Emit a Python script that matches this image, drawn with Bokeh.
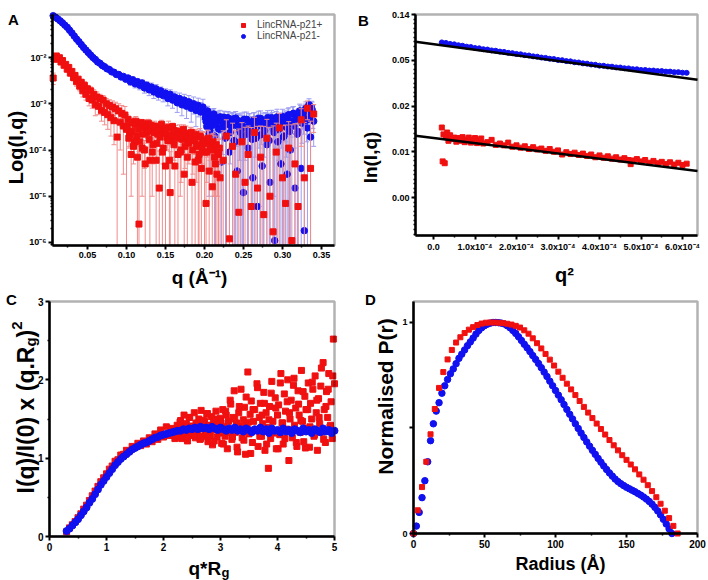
import numpy as np
from bokeh.plotting import figure
from bokeh.models import (Range1d, FixedTicker, Label, Legend, LegendItem, BoxAnnotation)
from bokeh.layouts import column, row
from bokeh.embed import file_html
from bokeh.resources import INLINE

FONT = "Liberation Sans"
RED = "#f01010"
BLUE = "#1010f0"
RED_ERR = "#f08c8c"
BLUE_ERR = "#9c9cf2"

# ======================= DATA =======================
# Panel A : log intensity vs q
a_blue_q_lo = [0.006, 0.009, 0.012, 0.015, 0.018, 0.021, 0.024, 0.027, 0.030, 0.033,
               0.036, 0.039, 0.042, 0.045, 0.048, 0.051, 0.054, 0.057, 0.060, 0.063,
               0.066, 0.069, 0.072, 0.075, 0.078, 0.081, 0.084, 0.087, 0.090, 0.093,
               0.096, 0.099, 0.102, 0.105, 0.108, 0.111, 0.114, 0.117, 0.120, 0.123,
               0.126, 0.129, 0.132, 0.135, 0.138, 0.141, 0.144, 0.147, 0.150, 0.153,
               0.156, 0.159, 0.162, 0.165, 0.168, 0.171, 0.174, 0.177, 0.180, 0.183,
               0.186, 0.189, 0.192, 0.195, 0.198]
a_blue_I_lo = [0.080, 0.074, 0.068, 0.062, 0.056, 0.050, 0.045, 0.039, 0.034, 0.029,
               0.025, 0.022, 0.019, 0.0165, 0.0145, 0.0128, 0.0113, 0.0100, 0.0091, 0.0080,
               0.0075, 0.0067, 0.0063, 0.0057, 0.0055, 0.0049, 0.0048, 0.0043, 0.0043, 0.0038,
               0.0039, 0.0034, 0.0036, 0.0030, 0.0033, 0.0027, 0.0030, 0.0025, 0.0028, 0.0022,
               0.0025, 0.0020, 0.0023, 0.0018, 0.0021, 0.0016, 0.0019, 0.0015, 0.0017, 0.0013,
               0.0016, 0.0012, 0.0014, 0.00105, 0.0013, 0.00095, 0.0012, 0.00088, 0.0011, 0.00080,
               0.0010, 0.00072, 0.00092, 0.00066, 0.00085]
a_blue_err_lo = [0.001, 0.001, 0.001, 0.001, 0.001, 0.001, 0.0008, 0.0007, 0.0006, 0.0005,
                 0.0004, 0.0004, 0.0003, 0.0003, 0.0003, 0.0006, 0.0006, 0.0005, 0.0005, 0.0004,
                 0.0004, 0.0004, 0.0003, 0.0003, 0.0003, 0.0003, 0.0003, 0.0003, 0.0003, 0.0003,
                 0.0003, 0.0003, 0.0005, 0.0005, 0.0005, 0.0005, 0.0005, 0.0005, 0.0005, 0.0005,
                 0.0005, 0.0005, 0.0005, 0.0005, 0.0005, 0.0004, 0.0004, 0.0004, 0.0004, 0.0004,
                 0.0004, 0.0004, 0.0004, 0.0004, 0.0004, 0.0004, 0.0004, 0.0004, 0.0004, 0.0004,
                 0.0004, 0.0004, 0.0004, 0.0004, 0.0004]
a_blue_q_hi = [0.200, 0.202, 0.204, 0.206, 0.208, 0.210, 0.212, 0.214, 0.216, 0.218,
               0.220, 0.222, 0.224, 0.226, 0.228, 0.230, 0.232, 0.234, 0.236, 0.238,
               0.240, 0.242, 0.244, 0.246, 0.248, 0.250, 0.252, 0.254, 0.256, 0.258,
               0.260, 0.262, 0.264, 0.266, 0.268, 0.270, 0.272, 0.274, 0.276, 0.278,
               0.280, 0.282, 0.284, 0.286, 0.288, 0.290, 0.292, 0.294, 0.296, 0.298,
               0.300, 0.302, 0.304, 0.306, 0.308, 0.310, 0.312, 0.314, 0.316, 0.318,
               0.320, 0.322, 0.324, 0.326, 0.328, 0.330, 0.332, 0.334, 0.336, 0.338,
               0.340]
a_blue_I_hi_e4 = [6.5, 4.1, 7.0, 2.3, 5.6, 3.4, 6.0, 1.2, 4.8, 2.9,
                  5.2, 0.55, 3.8, 4.6, 2.1, 5.0, 0.9, 3.3, 4.4, 1.6,
                  4.9, 0.35, 3.6, 2.4, 4.2, 0.12, 3.0, 4.6, 1.1, 3.9,
                  2.6, 0.25, 4.3, 1.8, 0.06, 3.5, 4.8, 0.45, 2.2, 4.1,
                  1.3, 3.7, 0.2, 5.0, 2.8, 0.011, 4.4, 1.5, 3.2, 0.5,
                  5.3, 2.0, 4.0, 0.3, 5.8, 1.0, 3.6, 6.2, 0.15, 4.7,
                  2.5, 7.0, 0.4, 5.5, 0.018, 8.0, 3.0, 9.5, 1.9, 7.5,
                  4.2]
a_blue_err_hi_e4 = [1.5, 2.0, 1.8, 2.2, 1.6, 2.4, 1.9, 2.6, 1.7, 2.3,
                    2.0, 2.8, 1.9, 2.1, 2.5, 1.8, 2.9, 2.2, 2.0, 2.7,
                    1.9, 3.0, 2.3, 2.6, 2.1, 3.2, 2.4, 2.0, 2.9, 2.2,
                    2.6, 3.1, 2.1, 2.8, 3.3, 2.4, 2.2, 3.0, 2.7, 2.3,
                    2.9, 2.5, 3.2, 2.2, 2.8, 3.4, 2.4, 3.0, 2.6, 3.1,
                    2.3, 2.9, 2.5, 3.3, 2.4, 3.0, 2.7, 2.5, 3.4, 2.6,
                    2.9, 2.8, 3.5, 2.7, 3.6, 3.0, 3.2, 3.3, 3.1, 3.4,
                    3.0]
a_blue_q_hi2 = [0.201, 0.203, 0.205, 0.207, 0.209, 0.211, 0.213, 0.215, 0.217, 0.219,
                0.221, 0.223, 0.225, 0.227, 0.229, 0.231, 0.233, 0.235, 0.237, 0.239,
                0.241, 0.243, 0.245, 0.247, 0.249, 0.251, 0.253, 0.255, 0.257, 0.259,
                0.261, 0.263, 0.265, 0.267, 0.269, 0.271, 0.273, 0.275, 0.277, 0.279,
                0.281, 0.283, 0.285, 0.287, 0.289, 0.291, 0.293, 0.295, 0.297, 0.299,
                0.301, 0.303, 0.305, 0.307, 0.309, 0.311, 0.313, 0.315, 0.317, 0.319,
                0.321, 0.323, 0.325, 0.327, 0.329, 0.331, 0.333, 0.335, 0.337, 0.339]
a_blue_I_hi2_e4 = [5.0, 3.2, 6.1, 2.6, 4.4, 5.5, 2.0, 3.8, 4.9, 2.8,
                   4.2, 3.0, 5.1, 1.8, 3.6, 4.5, 2.4, 3.9, 4.7, 1.5,
                   3.4, 4.3, 2.7, 3.8, 1.9, 4.6, 3.1, 2.2, 4.0, 3.5,
                   1.7, 4.4, 2.9, 3.6, 4.8, 2.1, 3.3, 4.1, 2.6, 3.9,
                   5.0, 1.6, 3.7, 4.5, 2.4, 3.2, 5.2, 2.8, 4.3, 3.6,
                   1.9, 4.9, 3.1, 5.6, 2.5, 4.2, 6.0, 3.3, 4.7, 2.2,
                   5.4, 6.5, 3.8, 5.0, 7.2, 4.4, 6.8, 5.2, 8.5, 6.0]
a_blue_err_hi2_e4 = [1.6, 2.0, 1.8, 2.2, 1.7, 1.9, 2.1, 1.8, 2.0, 1.7,
                     1.9, 2.2, 1.8, 2.0, 1.7, 2.1, 1.9, 2.3, 1.8, 2.0,
                     2.2, 1.9, 2.1, 1.8, 2.3, 2.0, 1.9, 2.2, 2.1, 1.8,
                     2.4, 2.0, 2.2, 1.9, 2.1, 2.3, 2.0, 2.2, 1.9, 2.4,
                     2.1, 2.5, 2.2, 2.0, 2.3, 2.1, 2.4, 2.2, 2.0, 2.5,
                     2.3, 2.1, 2.4, 2.2, 2.6, 2.3, 2.5, 2.2, 2.4, 2.7,
                     2.5, 2.6, 2.4, 2.8, 2.6, 2.9, 2.7, 3.0, 2.8, 3.1]

a_red_q_lo = [0.006, 0.008, 0.010, 0.012, 0.014, 0.016, 0.018, 0.020, 0.022, 0.024,
              0.026, 0.028, 0.030, 0.032, 0.034, 0.036, 0.038, 0.040, 0.042, 0.044,
              0.046, 0.048, 0.050, 0.052, 0.054, 0.056, 0.058, 0.060, 0.062, 0.064,
              0.066, 0.068, 0.070, 0.072, 0.074, 0.076, 0.078, 0.080, 0.082, 0.084,
              0.086, 0.088, 0.090, 0.092, 0.094, 0.096, 0.098, 0.100]
a_red_I_lo = [0.0036, 0.0092, 0.0108, 0.0094, 0.0099, 0.0080, 0.0086, 0.0068, 0.0071, 0.0056,
              0.0061, 0.0046, 0.0050, 0.0037, 0.0041, 0.0030, 0.0034, 0.0024, 0.0029, 0.0019,
              0.0025, 0.0016, 0.0021, 0.0013, 0.0019, 0.0012, 0.0016, 0.00095, 0.0014, 0.00088,
              0.0013, 0.00072, 0.0012, 0.00065, 0.0010, 0.00058, 0.00092, 0.00050, 0.00085, 0.00043,
              0.00078, 0.00019, 0.00070, 0.00040, 0.00062, 0.00033, 0.00057, 0.00028]
a_red_err_lo = [0.0010, 0.0012, 0.0012, 0.0011, 0.0011, 0.0010, 0.0010, 0.0009, 0.0009, 0.0008,
                0.0008, 0.0007, 0.0007, 0.0006, 0.0006, 0.0006, 0.0005, 0.0005, 0.0005, 0.0005,
                0.0005, 0.0004, 0.0004, 0.0004, 0.0004, 0.0004, 0.0004, 0.0004, 0.0004, 0.0003,
                0.0003, 0.0003, 0.0003, 0.0003, 0.0003, 0.0003, 0.0003, 0.0003, 0.0003, 0.0003,
                0.0003, 0.00025, 0.0003, 0.0003, 0.0003, 0.0003, 0.0003, 0.0003]
a_red_q_mid = [0.102, 0.104, 0.106, 0.108, 0.110, 0.112, 0.114, 0.116, 0.118, 0.120,
               0.122, 0.124, 0.126, 0.128, 0.130, 0.132, 0.134, 0.136, 0.138, 0.140,
               0.142, 0.144, 0.146, 0.148, 0.150, 0.152, 0.154, 0.156, 0.158, 0.160,
               0.162, 0.164, 0.166, 0.168, 0.170, 0.172, 0.174, 0.176, 0.178, 0.180,
               0.182, 0.184, 0.186, 0.188, 0.190, 0.192, 0.194, 0.196, 0.198, 0.200,
               0.202, 0.204, 0.206, 0.208, 0.210, 0.212, 0.214, 0.216, 0.218, 0.220]
a_red_I_mid_e4 = [4.6, 2.1, 0.8, 3.9, 1.5, 4.2, 0.7, 0.025, 3.1, 1.1,
                  3.6, 0.5, 2.4, 3.8, 0.6, 2.9, 1.3, 3.3, 0.6, 2.2,
                  0.15, 3.0, 0.9, 2.6, 0.45, 1.9, 3.1, 0.12, 1.6, 2.7,
                  0.45, 2.0, 0.8, 2.5, 1.0, 1.7, 0.3, 2.3, 0.7, 1.4,
                  2.1, 0.2, 1.8, 0.55, 1.2, 0.6, 2.0, 0.4, 1.5, 0.9,
                  0.07, 1.7, 0.35, 1.3, 0.16, 1.1, 0.5, 0.3, 0.8, 0.25]
a_red_err_mid_e4 = [0.8, 0.9, 0.7, 1.0, 0.8, 1.1, 0.7, 0.9, 0.8, 1.0,
                    0.9, 0.7, 1.0, 0.8, 0.9, 1.1, 0.8, 0.9, 0.7, 1.0,
                    0.8, 0.9, 1.0, 0.8, 0.7, 0.9, 1.1, 0.8, 0.9, 1.0,
                    0.7, 0.9, 0.8, 1.0, 0.8, 0.9, 0.7, 1.0, 0.8, 0.9,
                    1.0, 0.8, 0.9, 0.7, 1.0, 0.8, 0.9, 0.8, 1.0, 0.9,
                    0.8, 1.0, 0.7, 0.9, 0.8, 1.0, 0.8, 0.9, 1.0, 0.8]
a_red_q_mid2 = [0.101, 0.103, 0.105, 0.107, 0.109, 0.111, 0.113, 0.115, 0.117, 0.119,
                0.121, 0.123, 0.125, 0.127, 0.129, 0.131, 0.133, 0.135, 0.137, 0.139,
                0.141, 0.143, 0.145, 0.147, 0.149, 0.151, 0.153, 0.155, 0.157, 0.159,
                0.161, 0.163, 0.165, 0.167, 0.169, 0.171, 0.173, 0.175, 0.177, 0.179,
                0.181, 0.183, 0.185, 0.187, 0.189, 0.191, 0.193, 0.195, 0.197, 0.199,
                0.201, 0.203, 0.205, 0.207, 0.209, 0.211, 0.213, 0.215, 0.217, 0.219]
a_red_I_mid2_e4 = [3.2, 1.8, 4.0, 2.5, 1.2, 3.5, 2.0, 2.8, 1.5, 3.9,
                   2.2, 1.0, 3.0, 2.6, 1.7, 3.4, 0.9, 2.4, 3.1, 1.4,
                   2.7, 1.9, 3.6, 1.1, 2.3, 2.9, 1.6, 0.6, 2.1, 3.2,
                   1.3, 2.6, 1.8, 2.2, 0.9, 1.9, 2.8, 1.2, 2.0, 1.5,
                   1.7, 2.4, 1.0, 1.6, 2.2, 1.3, 0.8, 1.9, 1.1, 1.6,
                   1.4, 0.9, 1.8, 1.2, 1.0, 1.5, 0.7, 1.3, 0.9, 1.1]
a_red_err_mid2_e4 = [0.6, 0.7, 0.6, 0.8, 0.7, 0.6, 0.8, 0.7, 0.6, 0.7,
                     0.8, 0.6, 0.7, 0.8, 0.6, 0.7, 0.8, 0.6, 0.7, 0.8,
                     0.6, 0.7, 0.8, 0.6, 0.7, 0.8, 0.6, 0.7, 0.8, 0.6,
                     0.7, 0.8, 0.6, 0.7, 0.8, 0.6, 0.7, 0.8, 0.6, 0.7,
                     0.8, 0.6, 0.7, 0.8, 0.6, 0.7, 0.8, 0.6, 0.7, 0.8,
                     0.6, 0.7, 0.8, 0.6, 0.7, 0.8, 0.6, 0.7, 0.8, 0.6]
a_red_q_hi = [0.224, 0.228, 0.232, 0.236, 0.240, 0.244, 0.248, 0.252, 0.256, 0.260,
              0.264, 0.268, 0.272, 0.276, 0.280, 0.284, 0.288, 0.292, 0.296, 0.300,
              0.304, 0.308, 0.312, 0.316, 0.320, 0.324, 0.328, 0.332, 0.336, 0.340]
a_red_I_hi_e4 = [0.6, 2.0, 0.012, 1.2, 0.3, 0.045, 1.5, 0.2, 0.8, 0.06,
                 2.4, 0.15, 0.7, 0.04, 1.8, 0.1, 0.017, 0.9, 3.0, 0.25,
                 0.07, 1.1, 0.011, 0.5, 0.06, 4.5, 0.25, 8.0, 0.4, 6.0]
a_red_err_hi_e4 = [2.0, 2.5, 2.2, 2.6, 2.3, 2.8, 2.4, 2.9, 2.5, 3.0,
                   2.7, 3.1, 2.6, 3.2, 2.8, 3.0, 3.3, 2.9, 3.2, 3.1,
                   3.4, 3.0, 3.5, 3.2, 3.6, 3.3, 3.7, 3.5, 3.8, 3.6]
a_x_ticks = [0.05, 0.10, 0.15, 0.20, 0.25, 0.30, 0.35]
a_x_labels = ["0.05", "0.10", "0.15", "0.20", "0.25", "0.30", "0.35"]
a_y_ticks = [1e-6, 1e-5, 1e-4, 1e-3, 1e-2]
a_y_labels = ["10⁻⁶", "10⁻⁵", "10⁻⁴", "10⁻³", "10⁻²"]
a_series_names = ["LincRNA-p21+", "LincRNA-p21-"]

# Panel B : Guinier plot, ln(I) vs q^2 (q^2 in units of 1e-4)
b_blue_q2_e4 = [0.2, 0.3, 0.4, 0.5, 0.6, 0.7, 0.8, 0.9, 1.0, 1.1,
                1.2, 1.3, 1.4, 1.5, 1.6, 1.7, 1.8, 1.9, 2.0, 2.1,
                2.2, 2.3, 2.4, 2.5, 2.6, 2.7, 2.8, 2.9, 3.0, 3.1,
                3.2, 3.3, 3.4, 3.5, 3.6, 3.7, 3.8, 3.9, 4.0, 4.1,
                4.2, 4.3, 4.4, 4.5, 4.6, 4.7, 4.8, 4.9, 5.0, 5.1,
                5.2, 5.3, 5.4, 5.5, 5.6, 5.7, 5.8, 5.9, 6.0, 6.1]
b_blue_lnI = [-2.610, -2.622, -2.643, -2.652, -2.672, -2.683, -2.703, -2.712, -2.733, -2.740,
              -2.759, -2.766, -2.785, -2.792, -2.811, -2.818, -2.837, -2.845, -2.862, -2.870,
              -2.889, -2.896, -2.915, -2.922, -2.941, -2.948, -2.967, -2.974, -2.993, -2.999,
              -3.018, -3.024, -3.043, -3.049, -3.068, -3.074, -3.093, -3.099, -3.118, -3.121,
              -3.137, -3.140, -3.156, -3.159, -3.175, -3.178, -3.194, -3.197, -3.213, -3.213,
              -3.225, -3.225, -3.237, -3.237, -3.248, -3.248, -3.260, -3.260, -3.272, -3.275]
b_red_q2_e4 = [0.20, 0.22, 0.24, 0.27, 0.30, 0.33, 0.36, 0.40, 0.45, 0.50,
               0.55, 0.60, 0.65, 0.70, 0.75, 0.80, 0.85, 0.90, 0.95, 1.00,
               1.05, 1.10, 1.15, 1.20, 1.30, 1.40, 1.50, 1.60, 1.70, 1.80,
               1.90, 2.00, 2.10, 2.20, 2.30, 2.40, 2.50, 2.60, 2.70, 2.80,
               2.90, 3.00, 3.10, 3.20, 3.30, 3.40, 3.50, 3.60, 3.70, 3.80,
               3.90, 4.00, 4.10, 4.20, 4.30, 4.40, 4.50, 4.60, 4.70, 4.75,
               4.80, 4.90, 5.00, 5.10, 5.20, 5.30, 5.40, 5.50, 5.60, 5.70,
               5.80, 5.90, 6.00, 6.10]
b_red_lnI = [-4.47, -5.21, -4.62, -5.25, -4.68, -4.58, -4.76, -4.64, -4.72, -4.69,
             -4.78, -4.70, -4.76, -4.68, -4.79, -4.73, -4.69, -4.80, -4.74, -4.70,
             -4.81, -4.75, -4.71, -4.82, -4.79, -4.74, -4.85, -4.82, -4.86, -4.80,
             -4.89, -4.86, -4.91, -4.88, -4.94, -4.90, -4.95, -4.93, -4.98, -4.94,
             -5.00, -4.97, -5.06, -5.01, -5.05, -5.02, -5.07, -5.04, -5.09, -5.06,
             -5.12, -5.08, -5.13, -5.10, -5.15, -5.12, -5.17, -5.14, -5.18, -5.27,
             -5.19, -5.16, -5.21, -5.18, -5.24, -5.20, -5.25, -5.22, -5.27, -5.23,
             -5.28, -5.24, -5.29, -5.26]
b_fit_q2_e4 = [-0.6, 6.5]
b_fit_blue = [-2.573, -3.444]
b_fit_red = [-4.630, -5.438]
b_x_ticks_e4 = [0, 1, 2, 3, 4, 5, 6]
b_x_labels = ["0.0", "1.0x10⁻⁴", "2.0x10⁻⁴", "3.0x10⁻⁴", "4.0x10⁻⁴", "5.0x10⁻⁴", "6.0x10⁻⁴"]
b_y_ticks = [-6, -5, -4, -3, -2]
b_y_labels = ["0.00", "0.01", "0.02", "0.05", "0.14"]

# Panel C : dimensionless Kratky plot
c_blue_x = [0.30, 0.35, 0.40, 0.45, 0.50, 0.55, 0.60, 0.65, 0.70, 0.75,
            0.80, 0.85, 0.90, 0.95, 1.00, 1.05, 1.10, 1.15, 1.20, 1.25,
            1.30, 1.35, 1.40, 1.45, 1.50, 1.55, 1.60, 1.65, 1.70, 1.75,
            1.80, 1.85, 1.90, 1.95, 2.00, 2.05, 2.10, 2.15, 2.20, 2.25,
            2.30, 2.35, 2.40, 2.45, 2.50, 2.55, 2.60, 2.65, 2.70, 2.75,
            2.80, 2.85, 2.90, 2.95, 3.00, 3.05, 3.10, 3.15, 3.20, 3.25,
            3.30, 3.35, 3.40, 3.45, 3.50, 3.55, 3.60, 3.65, 3.70, 3.75,
            3.80, 3.85, 3.90, 3.95, 4.00, 4.05, 4.10, 4.15, 4.20, 4.25,
            4.30, 4.35, 4.40, 4.45, 4.50, 4.55, 4.60, 4.65, 4.70, 4.75,
            4.80, 4.85, 4.90, 4.95, 5.00]
c_blue_y = [0.07, 0.10, 0.14, 0.18, 0.22, 0.27, 0.32, 0.37, 0.43, 0.48,
            0.54, 0.60, 0.66, 0.71, 0.76, 0.81, 0.86, 0.91, 0.95, 0.99,
            1.02, 1.05, 1.08, 1.11, 1.13, 1.15, 1.17, 1.19, 1.20, 1.22,
            1.24, 1.26, 1.27, 1.29, 1.30, 1.31, 1.32, 1.33, 1.34, 1.35,
            1.35, 1.37, 1.36, 1.38, 1.37, 1.39, 1.37, 1.40, 1.38, 1.39,
            1.37, 1.40, 1.38, 1.36, 1.39, 1.37, 1.35, 1.38, 1.36, 1.39,
            1.35, 1.37, 1.34, 1.38, 1.36, 1.33, 1.37, 1.35, 1.39, 1.34,
            1.37, 1.32, 1.38, 1.35, 1.36, 1.33, 1.38, 1.34, 1.36, 1.32,
            1.37, 1.35, 1.33, 1.38, 1.34, 1.36, 1.32, 1.37, 1.35, 1.33,
            1.38, 1.34, 1.36, 1.32, 1.35]
c_red_x = [0.30, 0.35, 0.40, 0.45, 0.50, 0.55, 0.60, 0.65, 0.70, 0.75,
           0.80, 0.85, 0.90, 0.95, 1.00, 1.05, 1.10, 1.15, 1.20, 1.25,
           1.30, 1.35, 1.40, 1.45, 1.50, 1.55, 1.60, 1.65, 1.70, 1.75,
           1.80, 1.85, 1.90, 1.95, 2.00, 2.05, 2.10, 2.15, 2.20,
           2.22, 2.24, 2.26, 2.28, 2.30, 2.32, 2.34, 2.36, 2.38, 2.40,
           2.42, 2.44, 2.46, 2.48, 2.50, 2.52, 2.54, 2.56, 2.58, 2.60,
           2.62, 2.64, 2.66, 2.68, 2.70, 2.72, 2.74, 2.76, 2.78, 2.80,
           2.82, 2.84, 2.86, 2.88, 2.90, 2.92, 2.94, 2.96, 2.98, 3.00,
           3.02, 3.04, 3.06, 3.08, 3.10, 3.12, 3.14, 3.16, 3.18, 3.20,
           3.22, 3.24, 3.26, 3.28, 3.30, 3.32, 3.34, 3.36, 3.38, 3.40,
           3.42, 3.44, 3.46, 3.48, 3.50, 3.52, 3.54, 3.56, 3.58, 3.60,
           3.62, 3.64, 3.66, 3.68, 3.70, 3.72, 3.74, 3.76, 3.78, 3.80,
           3.82, 3.84, 3.86, 3.88, 3.90, 3.92, 3.94, 3.96, 3.98, 4.00,
           4.02, 4.04, 4.06, 4.08, 4.10, 4.12, 4.14, 4.16, 4.18, 4.20,
           4.22, 4.24, 4.26, 4.28, 4.30, 4.32, 4.34, 4.36, 4.38, 4.40,
           4.42, 4.44, 4.46, 4.48, 4.50, 4.52, 4.54, 4.56, 4.58, 4.60,
           4.62, 4.64, 4.66, 4.68, 4.70, 4.72, 4.74, 4.76, 4.78, 4.80,
           4.82, 4.84, 4.86, 4.88, 4.90, 4.92, 4.94, 4.96, 4.98, 5.00]
c_red_y = [0.06, 0.11, 0.15, 0.19, 0.24, 0.29, 0.35, 0.40, 0.46, 0.52,
           0.58, 0.64, 0.70, 0.75, 0.80, 0.86, 0.90, 0.96, 0.98, 1.04,
           1.05, 1.10, 1.09, 1.15, 1.14, 1.19, 1.16, 1.22, 1.18, 1.26,
           1.21, 1.31, 1.24, 1.36, 1.27, 1.40, 1.29, 1.38, 1.25,
           1.30, 1.42, 1.27, 1.36, 1.48, 1.25, 1.39, 1.55, 1.31, 1.44,
           1.22, 1.37, 1.52, 1.29, 1.41, 1.34, 1.58, 1.26, 1.45, 1.33,
           1.50, 1.24, 1.61, 1.38, 1.28, 1.47, 1.35, 1.56, 1.21, 1.42,
           1.30, 1.53, 1.17, 1.46, 1.36, 1.60, 1.27, 1.44, 1.32, 1.51,
           1.19, 1.62, 1.40, 1.28, 1.55, 1.12, 1.47, 1.35, 1.69, 1.24,
           1.52, 1.86, 1.33, 1.45, 1.08, 1.58, 1.38, 1.88, 1.26, 1.49,
           1.65, 1.05, 1.42, 2.10, 1.31, 1.56, 1.73, 1.20, 1.47, 1.62,
           1.36, 1.95, 1.15, 1.52, 1.70, 1.28, 1.44, 1.84, 1.10, 1.58,
           1.39, 0.87, 1.66, 1.25, 1.98, 1.47, 1.33, 1.77, 1.12, 1.55,
           1.68, 1.30, 2.08, 1.45, 1.18, 1.82, 1.60, 1.37, 2.00, 0.97,
           1.50, 1.74, 1.26, 1.93, 1.42, 1.64, 1.15, 1.86, 1.55, 1.33,
           2.12, 1.47, 1.21, 1.79, 1.62, 1.38, 1.96, 1.14, 1.70, 1.50,
           1.88, 1.28, 2.05, 1.58, 1.10, 1.76, 1.44, 1.92, 1.33, 2.22,
           1.62, 1.20, 1.85, 1.52, 2.08, 1.40, 1.72, 1.25, 2.52, 1.95]
c_red_x2 = [2.21, 2.25, 2.29, 2.33, 2.37, 2.41, 2.45, 2.49, 2.53, 2.57,
            2.61, 2.65, 2.69, 2.73, 2.77, 2.81, 2.85, 2.89, 2.93, 2.97,
            3.01, 3.05, 3.09, 3.13, 3.17, 3.21, 3.25, 3.29, 3.33, 3.37,
            3.41, 3.45, 3.49, 3.53, 3.57, 3.61, 3.65, 3.69, 3.73, 3.77,
            3.81, 3.85, 3.89, 3.93, 3.97, 4.01, 4.05, 4.09, 4.13, 4.17,
            4.21, 4.25, 4.29, 4.33, 4.37, 4.41, 4.45, 4.49, 4.53, 4.57,
            4.61, 4.65, 4.69, 4.73, 4.77, 4.81, 4.85, 4.89, 4.93, 4.97]
c_red_y2 = [1.35, 1.28, 1.46, 1.33, 1.40, 1.26, 1.52, 1.37, 1.30, 1.44,
            1.39, 1.25, 1.48, 1.34, 1.57, 1.29, 1.42, 1.22, 1.50, 1.36,
            1.45, 1.18, 1.60, 1.33, 1.74, 1.27, 1.50, 1.14, 1.66, 1.41,
            1.23, 1.78, 1.46, 1.06, 1.62, 1.35, 1.90, 1.28, 1.55, 1.70,
            1.18, 1.49, 1.83, 1.32, 1.64, 1.12, 1.96, 1.45, 1.25, 1.72,
            1.58, 1.36, 2.02, 1.20, 1.69, 1.48, 1.85, 1.13, 1.62, 1.40,
            1.97, 1.30, 1.74, 1.52, 2.15, 1.24, 1.66, 1.88, 1.42, 2.05]
c_x_ticks = [0, 1, 2, 3, 4, 5]
c_y_ticks = [0, 1, 2, 3]

# Panel D : normalised pair distance distribution
d_red_r = [0, 3, 6, 9, 12, 15, 18, 21, 24, 27, 30, 33, 36, 39, 42, 45, 48, 51, 54, 57,
           60, 63, 66, 69, 72, 75, 78, 81, 84, 87, 90, 93, 96, 99, 102, 105, 108, 111, 114, 117,
           120, 123, 126, 129, 132, 135, 138, 141, 144, 147, 150, 153, 156, 159, 162, 165, 168, 171, 174, 177,
           180, 183, 186]
d_red_p = [0.0, 0.11, 0.22, 0.34, 0.47, 0.59, 0.69, 0.765, 0.825, 0.87,
           0.905, 0.93, 0.95, 0.966, 0.978, 0.988, 0.995, 0.999, 1.0, 1.0,
           0.999, 0.997, 0.994, 0.99, 0.984, 0.976, 0.963, 0.947, 0.925, 0.902,
           0.877, 0.851, 0.824, 0.796, 0.767, 0.738, 0.71, 0.683, 0.656, 0.628,
           0.6, 0.573, 0.547, 0.521, 0.495, 0.469, 0.443, 0.418, 0.394, 0.371,
           0.349, 0.327, 0.304, 0.28, 0.255, 0.229, 0.201, 0.172, 0.141, 0.108,
           0.073, 0.036, 0.0]
d_blue_r = [0, 2, 4, 6, 8, 10, 12, 14, 16, 18, 20, 22, 24, 26, 28, 30, 32, 34, 36, 38,
            40, 42, 44, 46, 48, 50, 52, 54, 56, 58, 60, 62, 64, 66, 68, 70, 72, 74, 76, 78,
            80, 82, 84, 86, 88, 90, 92, 94, 96, 98, 100, 102, 104, 106, 108, 110, 112, 114, 116, 118,
            120, 122, 124, 126, 128, 130, 132, 134, 136, 138, 140, 142, 144, 146, 148, 150, 152, 154, 156, 158,
            160, 162, 164, 166, 168, 170, 172, 174, 176, 178, 180, 182]
d_blue_p = [0.0, 0.035, 0.10, 0.17, 0.25, 0.34, 0.44, 0.52, 0.58, 0.62,
            0.665, 0.70, 0.73, 0.757, 0.78, 0.805, 0.83, 0.85, 0.87, 0.89,
            0.908, 0.926, 0.945, 0.962, 0.975, 0.985, 0.992, 0.997, 1.0, 1.0,
            0.999, 0.997, 0.993, 0.985, 0.975, 0.962, 0.948, 0.932, 0.915, 0.897,
            0.88, 0.862, 0.843, 0.825, 0.806, 0.786, 0.765, 0.744, 0.722, 0.70,
            0.678, 0.656, 0.634, 0.611, 0.588, 0.565, 0.543, 0.52, 0.498, 0.476,
            0.455, 0.434, 0.414, 0.394, 0.375, 0.356, 0.338, 0.32, 0.303, 0.287,
            0.272, 0.258, 0.246, 0.236, 0.227, 0.219, 0.212, 0.205, 0.198, 0.19,
            0.182, 0.173, 0.163, 0.152, 0.139, 0.124, 0.107, 0.088, 0.067, 0.045,
            0.022, 0.0]
d_x_ticks = [0, 50, 100, 150, 200]
d_y_ticks = [0, 0.5, 1]
d_y_labels = ["0", "", "1"]

# ======================= LAYOUT =======================
W, H = 354, 290
A_O, B_O, C_O, D_O = (0, 0), (354, 0), (0, 290), (354, 290)
# page-pixel boxes of the four plotting frames
A_F = dict(l=52, r=334, t=14, b=245)
B_F = dict(l=415, r=697, t=14, b=235)
C_F = dict(l=49, r=334, t=301, b=536)
D_F = dict(l=413, r=697, t=301, b=533)
A_X, A_Y = (0.00513, 0.3667), (8.61e-7, 0.0851)
B_X, B_Y = (-0.434e-4, 6.361e-4), (-6.83, -2.0)
C_X, C_Y = (0.0, 5.0), (0.0, 3.0)
D_X, D_Y = (0.0, 200.0), (0.0, 1.0995)


def mapper(fr, xr, yr, ylog=False):
    def fx(px):
        return xr[0] + (px - fr["l"]) * (xr[1] - xr[0]) / (fr["r"] - fr["l"])

    def fy(py):
        if ylog:
            lo, hi = np.log10(yr[0]), np.log10(yr[1])
            return 10 ** (lo + (fr["b"] - py) * (hi - lo) / (fr["b"] - fr["t"]))
        return yr[0] + (fr["b"] - py) * (yr[1] - yr[0]) / (fr["b"] - fr["t"])
    return fx, fy


def inside(vals, lim):
    return [v for v in vals if lim[0] - 1e-12 <= v <= lim[1] + 1e-12]


def make_fig(xr, yr, fr, org, ytype="linear"):
    ox, oy = org
    fx, fy = mapper(fr, xr, yr, ylog=(ytype == "log"))
    p = figure(width=W, height=H,
               x_range=Range1d(fx(ox), fx(ox + W)), y_range=Range1d(fy(oy + H), fy(oy)),
               y_axis_type=ytype, output_backend="svg", toolbar_location=None,
               min_border_left=0, min_border_right=0, min_border_top=0, min_border_bottom=0)
    p.grid.visible = False
    p.outline_line_color = None
    p.background_fill_color = "white"
    p.border_fill_color = "white"
    p.xaxis.fixed_location = yr[0]
    p.xaxis.bounds = xr
    p.yaxis.fixed_location = xr[0]
    p.yaxis.bounds = yr
    for ax in (p.xaxis[0], p.yaxis[0]):
        ax.axis_line_width = 2.5
        ax.axis_line_color = "black"
        ax.major_tick_line_width = 2
        ax.major_tick_out = 4
        ax.major_tick_in = 0
        ax.minor_tick_line_width = 1.5
        ax.minor_tick_out = 2
        ax.minor_tick_in = 0
        ax.major_label_text_font = FONT
        ax.major_label_text_font_size = "9px"
        ax.major_label_text_font_style = "bold"
        ax.major_label_text_color = "black"
        ax.major_label_standoff = 2
    p.add_layout(BoxAnnotation(left=xr[0], right=xr[1], bottom=yr[0], top=yr[1],
                               fill_color=None, fill_alpha=0, line_color="black",
                               line_width=2.5, level="overlay"))
    return p, (fx, fy)


def text(p, m, px, py, s, size, bold=True, angle=0.0, align="center", baseline="middle"):
    fx, fy = m
    p.add_layout(Label(x=fx(px), y=fy(py), text=s, angle=angle, text_align=align,
                       text_baseline=baseline, text_font=FONT, text_font_size=f"{size}px",
                       text_font_style="bold" if bold else "normal", text_color="black"))


# ----------------------- Panel A -----------------------
pA, mA = make_fig(A_X, A_Y, A_F, A_O, "log")
pA.xaxis.ticker = FixedTicker(ticks=a_x_ticks,
                              minor_ticks=inside([0.025 + 0.05 * k for k in range(8)], A_X))
pA.xaxis.major_label_overrides = dict(zip(a_x_ticks, a_x_labels))
minor_log = inside([m * 10.0 ** e for e in range(-7, -1) for m in range(2, 10)], A_Y)
pA.yaxis.ticker = FixedTicker(ticks=a_y_ticks, minor_ticks=minor_log)
pA.yaxis.major_label_overrides = dict(zip(a_y_ticks, a_y_labels))

FLOOR = A_Y[0]


def draw_err(p, q, I, e, color):
    lo = [max(v - d, FLOOR) for v, d in zip(I, e)]
    hi = [min(v + d, A_Y[1]) for v, d in zip(I, e)]
    p.segment(q, lo, q, hi, line_color=color, line_width=1)
    p.scatter(q, hi, marker="dash", size=5, line_color=color, line_width=1)
    ql = [x for x, v, d in zip(q, I, e) if v - d > FLOOR]
    yl = [v - d for v, d in zip(I, e) if v - d > FLOOR]
    p.scatter(ql, yl, marker="dash", size=5, line_color=color, line_width=1)


def e4(vals):
    return [v * 1e-4 for v in vals]


a_bq = a_blue_q_lo + a_blue_q_hi + a_blue_q_hi2
a_bI = a_blue_I_lo + e4(a_blue_I_hi_e4) + e4(a_blue_I_hi2_e4)
a_be = a_blue_err_lo + e4(a_blue_err_hi_e4) + e4(a_blue_err_hi2_e4)
a_rq = a_red_q_lo + a_red_q_mid + a_red_q_mid2 + a_red_q_hi
a_rI = a_red_I_lo + e4(a_red_I_mid_e4) + e4(a_red_I_mid2_e4) + e4(a_red_I_hi_e4)
a_re = a_red_err_lo + e4(a_red_err_mid_e4) + e4(a_red_err_mid2_e4) + e4(a_red_err_hi_e4)

draw_err(pA, a_bq, a_bI, a_be, BLUE_ERR)
rb = pA.scatter(a_bq, a_bI, marker="circle", size=6.5, fill_color=BLUE, line_color=BLUE)
draw_err(pA, a_rq, a_rI, a_re, RED_ERR)
rr = pA.scatter(a_rq, a_rI, marker="square", size=6, fill_color=RED, line_color=RED)

leg = Legend(items=[LegendItem(label=a_series_names[0], renderers=[rr]),
                    LegendItem(label=a_series_names[1], renderers=[rb])],
             location="top_right", margin=19, padding=0, spacing=0,
             label_height=10, glyph_height=10, glyph_width=10, label_standoff=9, label_width=78,
             label_text_font=FONT, label_text_font_size="10px",
             border_line_alpha=0, background_fill_alpha=0)
pA.add_layout(leg)

text(pA, mA, 13, 19, "A", 15)
text(pA, mA, 199, 277, "q (Å⁻¹)", 19)
text(pA, mA, 15, 147, "Log(I,q)", 20, angle=np.pi / 2)

# ----------------------- Panel B -----------------------
pB, mB = make_fig(B_X, B_Y, B_F, B_O)
b_xt = [v * 1e-4 for v in b_x_ticks_e4]
pB.xaxis.ticker = FixedTicker(ticks=b_xt,
                              minor_ticks=inside([(k + 0.5) * 1e-4 for k in range(-1, 7)], B_X))
pB.xaxis.major_label_overrides = dict(zip(b_xt, b_x_labels))
pB.yaxis.ticker = FixedTicker(ticks=b_y_ticks,
                              minor_ticks=inside(list(np.arange(-6.8, -1.99, 0.1)), B_Y))
pB.yaxis.major_label_overrides = dict(zip(b_y_ticks, b_y_labels))

pB.scatter(e4(b_blue_q2_e4), b_blue_lnI, marker="circle", size=5,
           fill_color=BLUE, line_color=BLUE)
pB.scatter(e4(b_red_q2_e4), b_red_lnI, marker="square", size=5,
           fill_color=RED, line_color=RED)


def clipped(xs, ys, lo, hi):
    k = (ys[1] - ys[0]) / (xs[1] - xs[0])
    a, b = max(xs[0], lo), min(xs[1], hi)
    return [a, b], [ys[0] + k * (a - xs[0]), ys[0] + k * (b - xs[0])]


fq = e4(b_fit_q2_e4)
for fy_ in (b_fit_blue, b_fit_red):
    lx, ly = clipped(fq, fy_, B_X[0], B_X[1])
    pB.line(lx, ly, line_color="black", line_width=2.5)

text(pB, mB, 363, 20, "B", 15)
text(pB, mB, 564, 274, "q²", 20)
text(pB, mB, 370, 157, "ln(I,q)", 19, angle=np.pi / 2)

# ----------------------- Panel C -----------------------
pC, mC = make_fig(C_X, C_Y, C_F, C_O)
pC.xaxis.ticker = FixedTicker(ticks=c_x_ticks, minor_ticks=[0.5, 1.5, 2.5, 3.5, 4.5])
pC.yaxis.ticker = FixedTicker(ticks=c_y_ticks, minor_ticks=[0.5, 1.5, 2.5])
pC.xaxis.major_label_text_font_size = "10px"
pC.yaxis.major_label_text_font_size = "10px"
pC.scatter(c_red_x + c_red_x2, c_red_y + c_red_y2, marker="square", size=6,
           fill_color=RED, line_color=RED)
pC.scatter(c_blue_x, c_blue_y, marker="circle", size=7, fill_color=BLUE, line_color=BLUE)

text(pC, mC, 11, 299, "C", 15)
# x title  q*R_g
text(pC, mC, 188, 568, "q*R", 19, align="left", baseline="alphabetic")
text(pC, mC, 221, 572, "g", 13, align="left", baseline="alphabetic")
# y title  I(q)/I(0) x (q.R_g)^2  (rotated, reading upwards)
y0 = 493
text(pC, mC, 25, y0, "I(q)/I(0) x (q.R", 23, angle=np.pi / 2, align="left", baseline="alphabetic")
text(pC, mC, 30, y0 - 146.9, "g", 15, angle=np.pi / 2, align="left", baseline="alphabetic")
text(pC, mC, 25, y0 - 156.1, ")", 23, angle=np.pi / 2, align="left", baseline="alphabetic")
text(pC, mC, 16, y0 - 163.8, "2", 15, angle=np.pi / 2, align="left", baseline="alphabetic")

# ----------------------- Panel D -----------------------
pD, mD = make_fig(D_X, D_Y, D_F, D_O)
pD.xaxis.ticker = FixedTicker(ticks=d_x_ticks, minor_ticks=[25, 75, 125, 175])
pD.yaxis.ticker = FixedTicker(ticks=d_y_ticks)
pD.yaxis.major_label_overrides = dict(zip(d_y_ticks, d_y_labels))
pD.xaxis.major_label_text_font_size = "10px"
pD.scatter(d_blue_r, d_blue_p, marker="circle", size=6.5, fill_color=BLUE, line_color=BLUE)
pD.scatter(d_red_r, d_red_p, marker="square", size=5, fill_color=RED, line_color=RED)

text(pD, mD, 370, 299, "D", 15)
text(pD, mD, 560, 563, "Radius (Å)", 18)
text(pD, mD, 385, 396, "Normalised P(r)", 21, angle=np.pi / 2)

layout = column(row(pA, pB), row(pC, pD))
open("out.html", "w").write(file_html(layout, INLINE))
